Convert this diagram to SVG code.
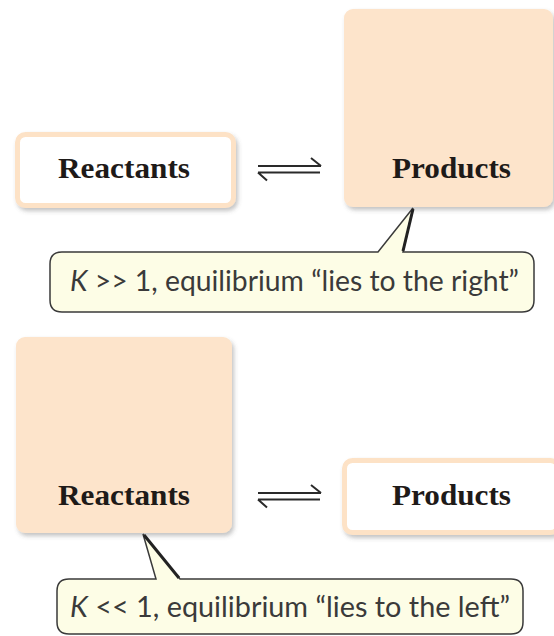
<svg xmlns="http://www.w3.org/2000/svg" width="554" height="636" viewBox="0 0 554 636">
<defs>
<filter id="sh" x="-10%" y="-10%" width="125%" height="130%">
<feDropShadow dx="2" dy="3" stdDeviation="2" flood-color="#555" flood-opacity="0.35"/>
</filter>
</defs>
<style>
.big{fill:#fde4cb;filter:url(#sh)}
.small{fill:#ffffff;stroke:#fde2c6;stroke-width:5;filter:url(#sh)}
.lbl{font-family:"Liberation Serif","Times New Roman",serif;font-weight:bold;font-size:29px;fill:#1e1a18;text-anchor:start}
.call{fill:#fdfde6;stroke:#3a3a3a;stroke-width:1.5;stroke-linejoin:miter}
.edge{stroke:#222;stroke-width:3;fill:none}
.ctext{font-family:Lato,"Open Sans",sans-serif;font-size:28px;fill:#3a3a3a}
.arr{stroke:#2a2a2a;stroke-width:2;fill:none;stroke-linecap:butt}
</style>
<rect width="554" height="636" fill="#ffffff"/>

<g id="reactants-top">
<rect class="small" x="17.5" y="134.5" width="216" height="71" rx="8"/>
<text class="lbl" x="58" y="178" textLength="132" lengthAdjust="spacingAndGlyphs">Reactants</text>
</g>
<g id="products-top">
<rect class="big" x="344" y="9" width="209" height="198" rx="9"/>
<text class="lbl" x="392" y="178" textLength="119" lengthAdjust="spacingAndGlyphs">Products</text>
</g>
<g id="reactants-bottom">
<rect class="big" x="16" y="337" width="216" height="196" rx="9"/>
<text class="lbl" x="58" y="505" textLength="132" lengthAdjust="spacingAndGlyphs">Reactants</text>
</g>
<g id="products-bottom">
<rect class="small" x="344.5" y="460.5" width="214" height="72" rx="8"/>
<text class="lbl" x="392" y="505" textLength="119" lengthAdjust="spacingAndGlyphs">Products</text>
</g>

<g id="connectors">
<path class="arr" d="M258 166 H321 M321 166 L311 158"/>
<path class="arr" d="M258 172.5 H320 M258 172.5 L267 180.5"/>
<path class="arr" d="M258 493 H321 M321 493 L311 485"/>
<path class="arr" d="M258 499.5 H320 M258 499.5 L267 507.5"/>
</g>

<g id="callout-top">
<path class="call" d="M62 252 L378 252 L413 208 L403 252 L522 252 Q534 252 534 264 L534 300 Q534 312 522 312 L62 312 Q50 312 50 300 L50 264 Q50 252 62 252 Z"/>
<path class="edge" d="M413 209 L403 251"/>
<text class="ctext" x="70" y="291" textLength="449" lengthAdjust="spacingAndGlyphs"><tspan font-style="italic">K</tspan> &gt;&gt; 1, equilibrium “lies to the right”</text>
</g>
<g id="callout-bottom">
<path class="call" d="M69 579 L156 579 L143 534 L180 579 L511 579 Q523 579 523 591 L523 622 Q523 634 511 634 L69 634 Q57 634 57 622 L57 591 Q57 579 69 579 Z"/>
<path class="edge" d="M144 535 L179 578"/>
<text class="ctext" x="70" y="617" textLength="440" lengthAdjust="spacingAndGlyphs"><tspan font-style="italic">K</tspan> &lt;&lt; 1, equilibrium “lies to the left”</text>
</g>
</svg>
